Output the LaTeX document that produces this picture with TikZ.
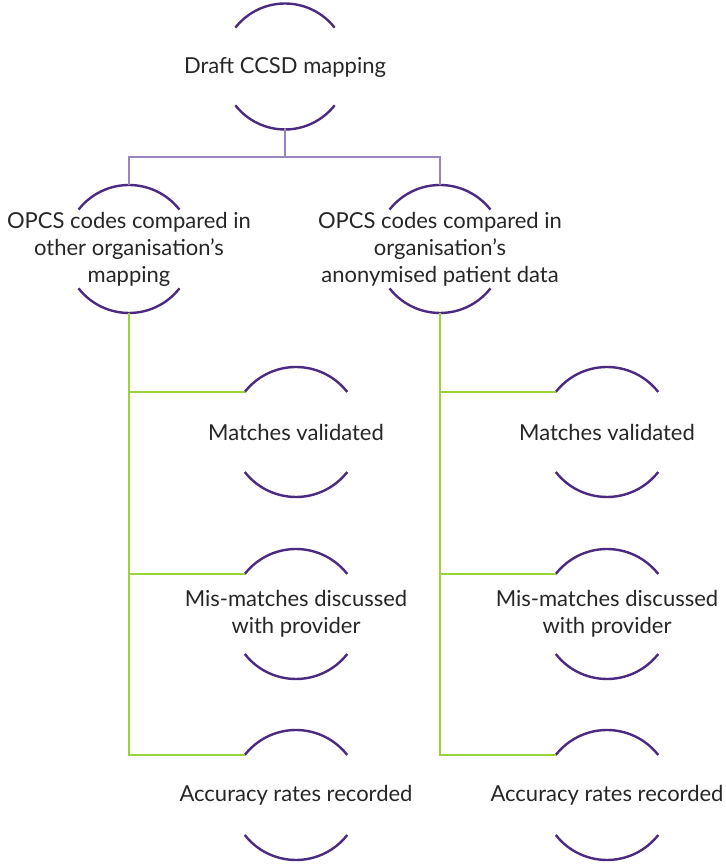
\documentclass[tikz,border=0pt]{standalone}
\usepackage{fontspec}
\setmainfont{Lato}
\usetikzlibrary{calc}
\definecolor{ringpurple}{HTML}{4B2A82}
\definecolor{treepurple}{HTML}{9A86BF}
\definecolor{branchgreen}{HTML}{9AD23A}
\tikzset{
  ringnode/.style={circle,inner sep=0pt,outer sep=0pt},
  lbl/.style={align=center,font=\fontsize{22}{27}\selectfont,text=black!85},
  ring/.style={draw=ringpurple,line width=2.4pt},
  tree/.style={draw=treepurple,line width=2.4pt},
  branch/.style={draw=branchgreen,line width=2.4pt},
}
% two arcs round a ring node: #1 name, #2 radius
\newcommand\ringarcs[2]{%
\draw[ring] (#1.38) arc (38:142:#2pt);%
\draw[ring] (#1.218) arc (218:322:#2pt);%
}
\begin{document}
\begin{tikzpicture}[x=1pt,y=1pt]%
\useasboundingbox (0,0) rectangle (725,864);%
%
\def\rtop{63};%
\def\rmid{64};%
\def\rlow{65};%
% top
\node[ringnode,minimum size=2*\rtop pt] (draft) at (285,797.5) {};%
\node[lbl] (draft-t) at ([yshift=-1pt]draft) {Draft CCSD mapping};%
\ringarcs{draft}{\rtop}%
%
% comparisons
\node[ringnode,minimum size=2*\rmid pt] (cmpL) at (129,615) {};%
\node[lbl] (cmpL-t) at (cmpL) {OPCS codes compared in\\other organisation’s\\mapping};%
\ringarcs{cmpL}{\rmid}%
\node[ringnode,minimum size=2*\rmid pt] (cmpR) at (440,615) {};%
\node[lbl] (cmpR-t) at (cmpR) {OPCS codes compared in\\organisation’s\\anonymised patient data};%
\ringarcs{cmpR}{\rmid}%
%
\draw[tree] (draft.south) -- ++(0,-27.5) -| (cmpL.north);%
\draw[tree] (draft.south) -- ++(0,-27.5) -| (cmpR.north);%
%
% outcomes, left
\node[ringnode,minimum size=2*\rlow pt] (matchL) at (296,432) {};%
\node[lbl] (matchL-t) at (matchL) {Matches validated};%
\ringarcs{matchL}{\rlow}%
\node[ringnode,minimum size=2*\rlow pt] (misL) at (296,250) {};%
\node[lbl] (misL-t) at (misL) {Mis-matches discussed\\with provider};%
\ringarcs{misL}{\rlow}%
\node[ringnode,minimum size=2*\rlow pt] (accL) at (296,69) {};%
\node[lbl] (accL-t) at (accL) {Accuracy rates recorded};%
\ringarcs{accL}{\rlow}%
%
% outcomes, right
\node[ringnode,minimum size=2*\rlow pt] (matchR) at (607,432) {};%
\node[lbl] (matchR-t) at (matchR) {Matches validated};%
\ringarcs{matchR}{\rlow}%
\node[ringnode,minimum size=2*\rlow pt] (misR) at (607,250) {};%
\node[lbl] (misR-t) at (misR) {Mis-matches discussed\\with provider};%
\ringarcs{misR}{\rlow}%
\node[ringnode,minimum size=2*\rlow pt] (accR) at (607,69) {};%
\node[lbl] (accR-t) at (accR) {Accuracy rates recorded};%
\ringarcs{accR}{\rlow}%
%
\draw[branch] (cmpL.south) |- (accL.142);%
\draw[branch] (cmpL.south) |- (matchL.142);%
\draw[branch] (cmpL.south) |- (misL.142);%
\draw[branch] (cmpR.south) |- (accR.142);%
\draw[branch] (cmpR.south) |- (matchR.142);%
\draw[branch] (cmpR.south) |- (misR.142);%
%
\end{tikzpicture}
\end{document}
